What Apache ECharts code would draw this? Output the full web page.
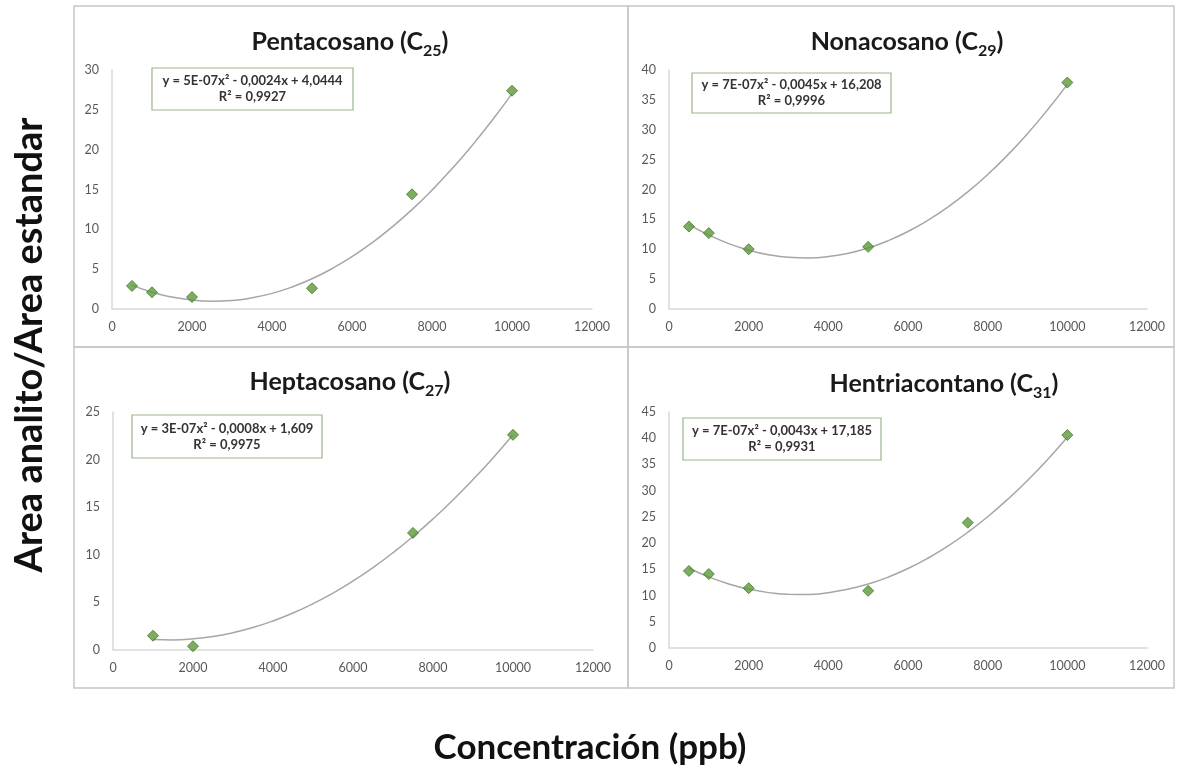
<!DOCTYPE html>
<html><head><meta charset="utf-8">
<script src="https://cdn.jsdelivr.net/npm/echarts@6/dist/echarts.min.js"></script>
<style>html,body{margin:0;padding:0;background:#fff}#c{width:1177px;height:773px}</style>
</head><body><div id="c"></div>
<script>
// ---- data ----
const panelNames = ['Pentacosano (C', 'Nonacosano (C', 'Heptacosano (C', 'Hentriacontano (C'];
const panelSubs = ['25', '29', '27', '31'];
const equations = ['y = 5E-07x² - 0,0024x + 4,0444', 'y = 7E-07x² - 0,0045x + 16,208', 'y = 3E-07x² - 0,0008x + 1,609', 'y = 7E-07x² - 0,0043x + 17,185'];
const r2Labels = ['R² = 0,9927', 'R² = 0,9996', 'R² = 0,9975', 'R² = 0,9931'];
const yMaxes = [30, 40, 25, 45];
const xTicks = [0, 2000, 4000, 6000, 8000, 10000, 12000];

const xC25 = [500, 1000, 2000, 5000, 7500, 10000];
const yC25 = [2.9, 2.1, 1.5, 2.6, 14.4, 27.4];
const xC29 = [500, 1000, 2000, 5000, 10000];
const yC29 = [13.8, 12.7, 10.0, 10.4, 37.9];
const xC27 = [1000, 2000, 7500, 10000];
const yC27 = [1.5, 0.4, 12.3, 22.6];
const xC31 = [500, 1000, 2000, 5000, 7500, 10000];
const yC31 = [14.7, 14.1, 11.4, 10.9, 23.9, 40.6];

// trendline (polynomial, order 2)
const tx25 = [500, 1000, 1500, 2000, 2500, 3000, 3500, 4000, 4500, 5000, 5500, 6000, 6500, 7000, 7500, 8000, 8500, 9000, 9500, 10000];
const ty25 = [3.0, 2.1, 1.5, 1.12, 0.98, 1.07, 1.4, 1.96, 2.76, 3.79, 5.06, 6.56, 8.3, 10.27, 12.48, 14.92, 17.6, 20.51, 23.66, 27.04];
const tx29 = [500, 1000, 1500, 2000, 2500, 3000, 3500, 4000, 4500, 5000, 5500, 6000, 6500, 7000, 7500, 8000, 8500, 9000, 9500, 10000];
const ty29 = [14.12, 12.37, 10.94, 9.85, 9.08, 8.65, 8.55, 8.77, 9.33, 10.21, 11.43, 12.97, 14.85, 17.05, 19.6, 22.5, 25.75, 29.35, 33.3, 37.6];
const tx27 = [1000, 1500, 2000, 2500, 3000, 3500, 4000, 4500, 5000, 5500, 6000, 6500, 7000, 7500, 8000, 8500, 9000, 9500, 10000];
const ty27 = [1.1, 1.06, 1.17, 1.42, 1.82, 2.36, 3.05, 3.88, 4.86, 5.98, 7.25, 8.66, 10.22, 11.92, 13.77, 15.76, 17.9, 20.18, 22.61];
const tx31 = [500, 1000, 1500, 2000, 2500, 3000, 3500, 4000, 4500, 5000, 5500, 6000, 6500, 7000, 7500, 8000, 8500, 9000, 9500, 10000];
const ty31 = [15.2, 13.55, 12.22, 11.23, 10.56, 10.23, 10.22, 10.55, 11.21, 12.19, 13.51, 15.15, 17.13, 19.43, 22.07, 25.03, 28.33, 31.95, 35.91, 40.19];

const yAxisTitle = 'Area analito/Area estandar';
const xAxisTitle = 'Concentración (ppb)';

// ---- layout ----
const FONT = 'Lato, "Open Sans", sans-serif';
const grids = [
  {left: 112, top: 70, width: 480, height: 239},
  {left: 669, top: 70, width: 478, height: 239},
  {left: 113, top: 412, width: 480, height: 238},
  {left: 669, top: 412, width: 478, height: 236}
];
const pts = [[xC25, yC25], [xC29, yC29], [xC27, yC27], [xC31, yC31]];
const trends = [[tx25, ty25], [tx29, ty29], [tx27, ty27], [tx31, ty31]];
const titlePos = [[350, 38], [907, 38], [350, 378], [944, 380]];
const boxes = [[152, 68, 201, 42], [692, 73, 199, 40], [132, 415, 190, 43], [683, 418, 198, 42]];
const panels = [[74, 6, 554, 341], [628, 6, 546, 341], [74, 347, 554, 341], [628, 347, 546, 341]];

const zip = (xs, ys) => xs.map((x, i) => [x, ys[i]]);
const xAxes = [], yAxes = [], series = [], graphics = [];

panels.forEach(p => graphics.push({type: 'rect', shape: {x: p[0], y: p[1], width: p[2], height: p[3]},
  style: {fill: 'none', stroke: '#c6c6c6', lineWidth: 1.5}, z: 0}));

grids.forEach((g, i) => {
  xAxes.push({gridIndex: i, type: 'value', min: 0, max: xTicks[xTicks.length - 1], interval: xTicks[1] - xTicks[0],
    axisLine: {show: true, lineStyle: {color: '#d9d9d9', width: 1.5}}, axisTick: {show: false}, splitLine: {show: false},
    axisLabel: {color: '#595959', fontSize: 12.5, fontFamily: FONT, margin: 11, formatter: v => String(v)}});
  yAxes.push({gridIndex: i, type: 'value', min: 0, max: yMaxes[i], interval: 5,
    axisLine: {show: true, lineStyle: {color: '#d9d9d9', width: 1.5}}, axisTick: {show: false}, splitLine: {show: false},
    axisLabel: {color: '#595959', fontSize: 12.5, fontFamily: FONT, margin: 13, formatter: v => String(v)}});
  series.push({type: 'line', xAxisIndex: i, yAxisIndex: i, data: zip(trends[i][0], trends[i][1]), smooth: true,
    showSymbol: false, symbol: 'none', lineStyle: {color: '#a6a6a6', width: 1.5}, z: 2, silent: true});
  series.push({type: 'scatter', xAxisIndex: i, yAxisIndex: i, data: zip(pts[i][0], pts[i][1]), symbol: 'diamond',
    symbolSize: 11, itemStyle: {color: '#5c9a38', borderColor: '#42752a', borderWidth: 1}, z: 3});
  graphics.push({type: 'text', x: titlePos[i][0], y: titlePos[i][1], z: 5,
    style: {text: '{a|' + panelNames[i] + '}{s|' + panelSubs[i] + '}{a|)}', align: 'center', verticalAlign: 'middle',
      rich: {a: {fontSize: 25, fontWeight: 'bold', fontFamily: FONT, fill: '#1a1a1a', lineHeight: 32, verticalAlign: 'bottom'},
             s: {fontSize: 16, fontWeight: 'bold', fontFamily: FONT, fill: '#1a1a1a', lineHeight: 32, verticalAlign: 'bottom', padding: [0, 0, -5, 0]}}}});
  const b = boxes[i];
  graphics.push({type: 'rect', shape: {x: b[0], y: b[1], width: b[2], height: b[3]}, z: 5,
    style: {fill: '#fff', stroke: '#9bb58a', lineWidth: 1.2}});
  graphics.push({type: 'text', x: b[0] + b[2] / 2, y: b[1] + b[3] / 2, z: 6,
    style: {text: equations[i] + '\n' + r2Labels[i], align: 'center', verticalAlign: 'middle', lineHeight: 16,
      fontSize: 13, fontWeight: 'bold', fontFamily: FONT, fill: '#333'}});
});

graphics.push({type: 'text', x: 30, y: 345, rotation: Math.PI / 2, z: 5,
  style: {text: yAxisTitle, align: 'center', verticalAlign: 'middle', fontSize: 38, fontWeight: 'bold', fontFamily: FONT, fill: '#111'}});
graphics.push({type: 'text', x: 590, y: 748, z: 5,
  style: {text: xAxisTitle, align: 'center', verticalAlign: 'middle', fontSize: 35, fontWeight: 'bold', fontFamily: FONT, fill: '#111'}});

const chart = echarts.init(document.getElementById('c'), null, {renderer: 'canvas'});
chart.setOption({
  backgroundColor: '#fff', animation: false,
  grid: grids.map(g => Object.assign({containLabel: false}, g)),
  xAxis: xAxes, yAxis: yAxes, series: series, graphic: graphics
});
</script></body></html>
